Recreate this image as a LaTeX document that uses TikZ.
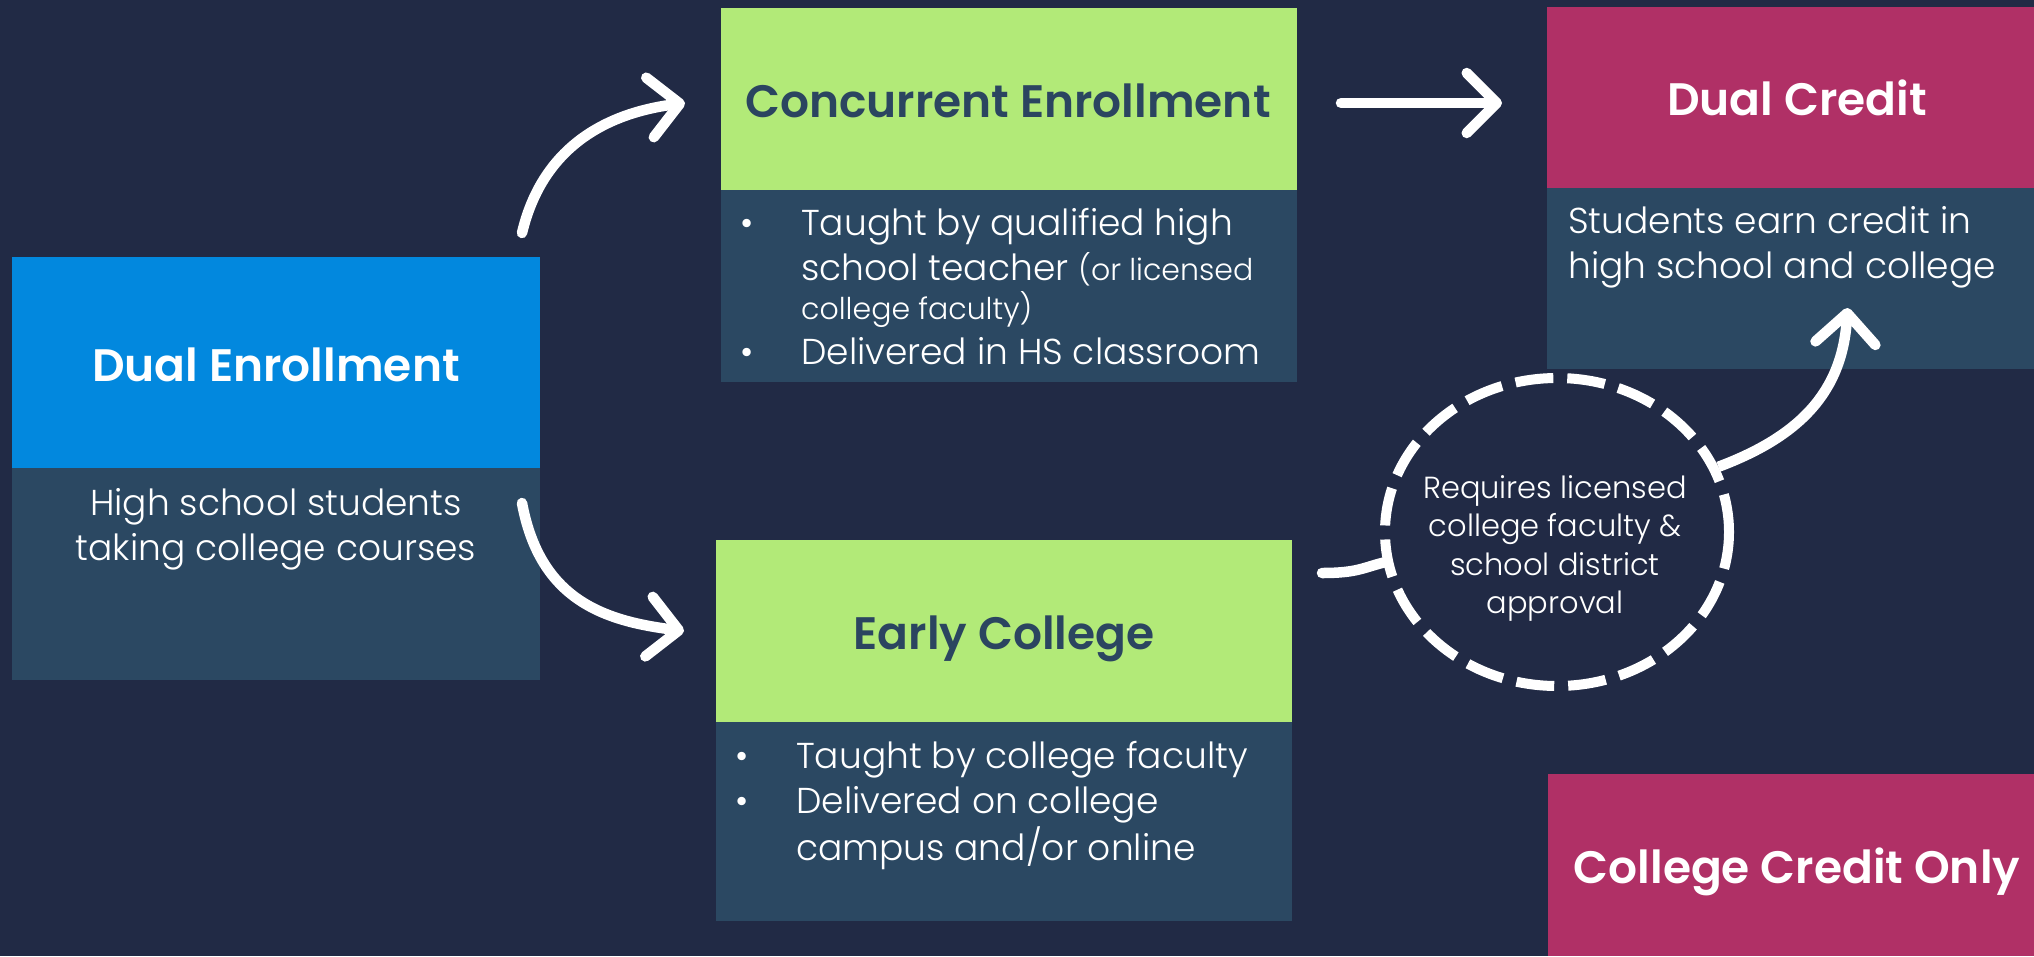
\documentclass[tikz,border=0pt]{standalone}
\usepackage{fontspec}
\setmainfont{Poppins}[UprightFont=* Light,BoldFont=* SemiBold]
\usetikzlibrary{arrows.meta,shapes.geometric,calc}
\definecolor{bg}{HTML}{212A45}
\definecolor{deblue}{HTML}{0288DE}
\definecolor{panel}{HTML}{2B4862}
\definecolor{lime}{HTML}{B2EA78}
\definecolor{berry}{HTML}{B03066}
\definecolor{ink}{HTML}{2B4560}
\newcommand\bodyfont{\fontsize{36}{45}\selectfont}
\newcommand\smallfont{\fontsize{30}{32}\selectfont}
\newcommand\bul{\makebox[63pt][l]{\hspace{2pt}•}}
\begin{document}
\begin{tikzpicture}[x=1pt,y=-1pt,
  box/.style={rectangle,inner sep=0pt,outer sep=0pt,anchor=north west},
  title/.style={font=\fontsize{45.5}{50}\selectfont\bfseries,anchor=base,inner sep=0pt},
  body/.style={font=\bodyfont,text=white,inner sep=0pt},
  flow/.style={draw=white,line width=10.5pt,line join=round},
  tip/.style={-{Straight Barb[length=30pt,width=60pt,round]}}
]
\useasboundingbox[fill=bg] (0,0) rectangle (2034,956);

% boxes
\node[box,fill=deblue,minimum width=528pt,minimum height=211pt] (de) at (12,257) {};
\node[box,fill=panel,minimum width=528pt,minimum height=212pt] (dedesc) at (12,468) {};
\node[box,fill=lime,minimum width=576pt,minimum height=182pt] (ce) at (721,8) {};
\node[box,fill=panel,minimum width=576pt,minimum height=192pt] (cedesc) at (721,190) {};
\node[box,fill=lime,minimum width=576pt,minimum height=182pt] (ec) at (716,540) {};
\node[box,fill=panel,minimum width=576pt,minimum height=199pt] (ecdesc) at (716,722) {};
\node[box,fill=berry,minimum width=487pt,minimum height=181pt] (dc) at (1547,7) {};
\node[box,fill=panel,minimum width=487pt,minimum height=181pt] (dcdesc) at (1547,188) {};
\node[box,fill=berry,minimum width=486pt,minimum height=182pt] (cco) at (1548,774) {};

% titles
\node[title,text=white] (detitle) at (276,381) {Dual Enrollment};
\node[title,text=ink] (cetitle) at (1008,117) {Concurrent Enrollment};
\node[title,text=ink] (ectitle) at (1004,649) {Early College};
\node[title,text=white] (dctitle) at (1797,115) {Dual Credit};
\node[title,text=white] (ccotitle) at (1797,883) {College Credit Only};

% descriptions
\node[body,anchor=base] (detext) at (276,515)
  {\begin{tabular}[t]{@{}c@{}}High school students\\taking college courses\end{tabular}};
\node[body,anchor=base west] (cetext) at (738,235)
  {\begin{tabular}[t]{@{}l@{}l@{}}\bul & Taught by qualified high\\
   & school teacher {\smallfont (or licensed}\\[-6pt]
   & {\smallfont college faculty)}\\
   \bul & Delivered in HS classroom\end{tabular}};
\node[body,anchor=base west] (ectext) at (733,768)
  {\begin{tabular}[t]{@{}l@{}l@{}}\bul & Taught by college faculty\\
   \bul & Delivered on college\\
   & campus and/or online\end{tabular}};
\node[body,anchor=base west] (dctext) at (1568,233)
  {\begin{tabular}[t]{@{}l@{}}Students earn credit in\\high school and college\end{tabular}};

% requirement bubble
\node[ellipse,draw=white,line width=10pt,dash pattern=on 38pt off 14pt,
  minimum width=344pt,minimum height=308pt,inner sep=0pt] (req) at (1557,532) {};
\node[anchor=base,text=white,inner sep=0pt,font=\fontsize{30.5}{38.5}\selectfont] (reqtext) at (1555,498)
  {\begin{tabular}[t]{@{}c@{}}Requires licensed\\college faculty \&\\school district\\approval\end{tabular}};

% connectors
\draw[flow,line cap=round,tip] ($(de.north east)+(-18,-24)$)
  .. controls +(23,-97) and +(-63,8) .. ($(ce.west)+(-36,4)$);
\draw[flow,line cap=round,tip] ($(ce.east)+(44,4)$) -- ($(dc.west |- ce.east)+(-45,4)$);
\draw[flow,line cap=round,tip] ($(dedesc.north east)+(-18,35)$)
  .. controls +(18,97) and +(-80,-10) .. ($(ec.west)+(-32,0)$);
\draw[flow,tip] (req.22)
  .. controls +(80,-30) and +(-5,85) .. ($(dcdesc.south)+(57,-61)$);
\draw[flow,line cap=round] ($(ec.east)+(30,-58)$)
  .. controls +(35,0) and +(-20,5) .. (req.190);
\end{tikzpicture}
\end{document}
